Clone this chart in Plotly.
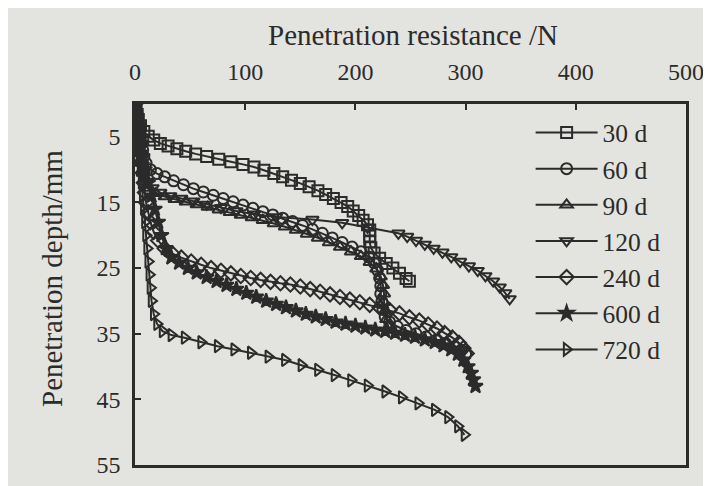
import plotly.graph_objects as go

# ---- data: (resistance N, depth mm) ----
x_30 = [0,1,2,3,5,8,12,17,23,30,38,46,55,65,76,87,98,108,117,126,134,142,150,158,166,173,180,187,193,198,203,207,211,213,213,213,214,217,222,228,234,240,246,249]
y_30 = [0,0.8,1.6,2.4,3.3,4.2,4.9,5.5,6.0,6.4,6.8,7.2,7.6,8.0,8.4,8.8,9.2,9.6,10.1,10.6,11.1,11.6,12.1,12.6,13.2,13.8,14.4,15.0,15.6,16.3,17.0,17.7,18.4,19.2,20.1,21.0,21.9,22.7,23.5,24.3,25.0,25.8,26.6,27.0]

x_60 = [0,1,2,3,4,5,6,7,8,10,14,20,27,35,44,53,62,71,80,89,98,107,116,125,134,143,152,161,170,179,188,197,205,212,217,220,222,223,223,224,225,227,231,238,246,255,264,273,282,290,296,300]
y_60 = [0,1,2,3,4,5,6,7,8,9,10,10.6,11.1,11.7,12.3,12.9,13.4,13.9,14.4,14.9,15.4,15.9,16.4,16.9,17.4,17.9,18.5,19.1,19.7,20.4,21.1,21.8,22.5,23.3,24.2,25.3,26.5,27.7,28.9,30.1,31.3,32.4,33.2,33.9,34.5,35.0,35.5,36.0,36.5,37.0,37.5,38.1]

x_90 = [0,1,2,3,4,5,6,7,9,13,19,27,36,46,56,66,76,86,96,106,116,126,136,146,156,166,176,186,196,205,213,219,223,225,226,226,227,228,230]
y_90 = [0,1.5,3,4.5,6,7.5,9,10.5,11.8,12.8,13.6,14.1,14.5,14.9,15.3,15.7,16.1,16.5,16.9,17.3,17.7,18.2,18.7,19.2,19.8,20.4,21.1,21.8,22.5,23.2,24.1,25.1,26.3,27.6,28.9,30.2,31.5,32.8,34.0]

x_120 = [0,1,2,3,4,5,6,8,11,16,23,32,42,53,65,78,92,108,128,161,188,211,239,247,255,263,271,279,287,295,303,311,318,325,331,336,340]
y_120 = [0,1.5,3,4.5,6,7.5,9,10.5,11.8,12.8,13.5,14.0,14.4,14.8,15.3,15.8,16.3,16.8,17.2,17.6,18.1,18.8,19.7,20.2,20.8,21.4,22.0,22.6,23.3,24.0,24.7,25.4,26.2,27.0,27.9,28.8,29.7]

x_240 = [0,1,2,3,4,5,6,7,8,9,10,12,14,17,21,27,34,42,51,60,69,78,87,96,105,114,123,132,141,150,159,168,177,186,195,204,213,222,231,240,249,258,266,274,281,288,294,298,301]
y_240 = [0,1.5,3,4.5,6,7.5,9,10.5,12,13.5,15,16.5,18,19.5,20.8,22,22.8,23.4,24.0,24.5,25.0,25.4,25.8,26.2,26.5,26.8,27.1,27.3,27.5,27.8,28.2,28.6,29.0,29.4,29.8,30.2,30.6,31.0,31.4,31.9,32.5,33.0,33.6,34.2,34.9,35.6,36.4,37.2,38.0]

x_600 = [0,1.5,3,5,7,9,12,15,18,21,24,28,33,40,48,56,65,74,83,92,101,110,119,128,137,146,155,164,173,182,191,200,209,218,227,236,245,254,263,272,280,287,293,298,302,305,307,309]
y_600 = [0,2,4,6,8,10,12,14,16,18,20,22,23.4,24.2,25.0,25.7,26.4,27.0,27.6,28.2,28.8,29.4,30.0,30.5,31.0,31.5,32.0,32.4,32.8,33.2,33.5,33.8,34.1,34.4,34.6,34.9,35.2,35.5,35.9,36.3,36.8,37.4,38.1,39.0,40.0,41.0,42.0,43.0]

x_720 = [0,1,2,3,4,5,6,7,8,9,10,11,12,13,14,15,17,20,25,33,45,60,75,90,105,121,136,151,166,181,196,211,227,242,257,272,284,293,299]
y_720 = [0,2,4,6,8,10,12,14,16,18,20,22,24,26,28,30,32,33.5,34.6,35.2,35.6,36.3,36.9,37.4,37.9,38.5,39.0,39.8,40.5,41.3,42.1,42.9,43.8,44.7,45.6,46.6,47.7,49.1,50.4]

series_names = ["30 d", "60 d", "90 d", "120 d", "240 d", "600 d", "720 d"]
series_x = [x_30, x_60, x_90, x_120, x_240, x_600, x_720]
series_y = [y_30, y_60, y_90, y_120, y_240, y_600, y_720]
symbols = ["square-open", "circle-open", "triangle-up-open", "triangle-down-open",
           "diamond-open", "star", "triangle-right-open"]

x_ticks = [0, 100, 200, 300, 400, 500]
y_ticks = [5, 15, 25, 35, 45, 55]

INK = "#2b2b2b"
BG = "#e3e4df"
FONT = "Liberation Serif"

fig = go.Figure()
for name, xs, ys, sym in zip(series_names, series_x, series_y, symbols):
    fig.add_trace(go.Scatter(
        x=xs, y=ys, name=name, mode="lines+markers",
        line=dict(color=INK, width=2),
        marker=dict(symbol=sym, size=11, color=INK, line=dict(color=INK, width=2)),
    ))

fig.update_layout(
    width=711, height=486,
    margin=dict(l=127, r=33, t=96, b=29),
    paper_bgcolor=BG, plot_bgcolor=BG,
    font=dict(family=FONT, size=24, color=INK),
    showlegend=True,
    legend=dict(
        x=0.718, y=0.985, xanchor="left", yanchor="top",
        bgcolor="rgba(0,0,0,0)", borderwidth=0,
        font=dict(family=FONT, size=25.5, color=INK),
        itemwidth=62, tracegroupgap=0,
    ),
    xaxis=dict(
        side="top", range=[0, 500], tickvals=x_ticks,
        ticks="inside", ticklen=6, tickwidth=2, tickcolor=INK,
        showline=True, linecolor=INK, linewidth=2.5, mirror=True,
        showgrid=False, zeroline=False, ticklabelstandoff=12,
        tickfont=dict(family=FONT, size=24, color=INK),
    ),
    yaxis=dict(
        range=[55, 0], tickvals=y_ticks,
        ticks="inside", ticklen=6, tickwidth=2, tickcolor=INK,
        showline=True, linecolor=INK, linewidth=2.5, mirror=True,
        showgrid=False, zeroline=False, ticklabelstandoff=7,
        tickfont=dict(family=FONT, size=24, color=INK),
    ),
    annotations=[
        dict(text="Penetration resistance /N", xref="paper", yref="paper",
             x=(405 - 127) / 551, y=1.0 + (96 - 27) / 361, xanchor="center", yanchor="middle",
             showarrow=False, font=dict(family=FONT, size=29, color=INK)),
        dict(text="Penetration depth/mm", xref="paper", yref="paper",
             x=(44 - 127) / 551, y=(457 - 271) / 361, xanchor="center", yanchor="middle",
             textangle=-90, showarrow=False, font=dict(family=FONT, size=29, color=INK)),
    ],
)

fig.write_html("out.html")
